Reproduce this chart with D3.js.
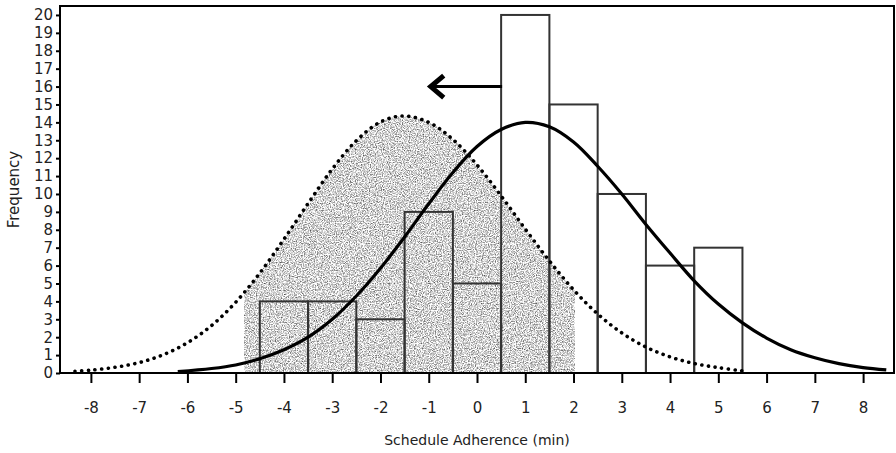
<!DOCTYPE html>
<html>
<head>
<meta charset="utf-8">
<script src="https://cdn.jsdelivr.net/npm/d3@7"></script>
<style>
  body { margin: 0; background: #fff; }
  svg { display: block; font-family: "DejaVu Sans", sans-serif; }
</style>
</head>
<body>
<svg id="hist-svg"></svg>
<script>
// histogram: centre of each 1 min bin and its count
const binCentres = [-4, -3, -2, -1, 0, 1, 2, 3, 4, 5];
const binCounts = [4, 4, 3, 9, 5, 20, 15, 10, 6, 7];
const binWidth = 1;

// fitted curve (solid)
const fitX = [-6.2, -5.5, -5, -4.5, -4, -3.5, -3, -2.5, -2, -1.5, -1, -0.5, 0, 0.5, 1, 1.5, 2, 2.5, 3, 3.5, 4, 4.5, 5, 5.5, 6, 6.5, 7, 7.5, 8, 8.48];
const fitY = [0.08, 0.25, 0.45, 0.8, 1.3, 2.0, 3.0, 4.3, 5.85, 7.6, 9.45, 11.2, 12.65, 13.6, 14.0, 13.75, 12.9, 11.55, 10.0, 8.3, 6.7, 5.15, 3.85, 2.8, 1.95, 1.3, 0.85, 0.52, 0.3, 0.17];

// shifted curve (dotted)
const shiftX = [-8.33, -8, -7.5, -7, -6.5, -6, -5.5, -5, -4.5, -4, -3.5, -3, -2.5, -2, -1.53, -1, -0.5, 0, 0.5, 1, 1.5, 2, 2.5, 3, 3.5, 4, 4.5, 5, 5.49];
const shiftY = [0.1, 0.16, 0.32, 0.58, 1.02, 1.69, 2.65, 3.95, 5.58, 7.47, 9.47, 11.39, 12.98, 14.02, 14.36, 14.0, 13.05, 11.62, 9.89, 8.04, 6.26, 4.65, 3.3, 2.24, 1.45, 0.9, 0.53, 0.3, 0.12];

// shaded part under the dotted curve
const shadeRange = [-4.83, 2.03];

// arrow showing the shift
const arrowFrom = [0.52, 16];
const arrowTo = [-1.0, 16];

const xTicks = [-8, -7, -6, -5, -4, -3, -2, -1, 0, 1, 2, 3, 4, 5, 6, 7, 8];
const yTicks = [0, 1, 2, 3, 4, 5, 6, 7, 8, 9, 10, 11, 12, 13, 14, 15, 16, 17, 18, 19, 20];

let svg = d3.select("#hist-svg");
const width = 896;
const height = 453;
const margin = {top: 6, right: 2, bottom: 80, left: 60};

svg.attr("width", width).attr("height", height);

const x = d3.scaleLinear()
    .domain([-8.64, 8.64])
    .range([margin.left, width - margin.right]);

const y = d3.scaleLinear()
    .domain([0, 20.5])
    .range([height - margin.bottom, margin.top]);

// grey stipple texture
const defs = svg.append("defs");
const filt = defs.append("filter")
    .attr("id", "stipple")
    .attr("color-interpolation-filters", "sRGB");
filt.append("feTurbulence")
    .attr("type", "fractalNoise")
    .attr("baseFrequency", 0.85)
    .attr("numOctaves", 2)
    .attr("seed", 5)
    .attr("result", "n");
filt.append("feColorMatrix")
    .attr("in", "n")
    .attr("type", "matrix")
    .attr("values", "1.4 0 0 0 0.13  1.4 0 0 0 0.13  1.4 0 0 0 0.13  0 0 0 0 1")
    .attr("result", "g");
filt.append("feComposite")
    .attr("in", "g")
    .attr("in2", "SourceGraphic")
    .attr("operator", "in");

defs.append("clipPath")
    .attr("id", "shade-clip")
    .append("rect")
    .attr("x", x(shadeRange[0]))
    .attr("y", y.range()[1])
    .attr("width", x(shadeRange[1]) - x(shadeRange[0]))
    .attr("height", y.range()[0] - y.range()[1]);

const shiftPts = shiftX.map((d, i) => [d, shiftY[i]]);
const fitPts = fitX.map((d, i) => [d, fitY[i]]);

// shaded area
svg.append("g")
    .attr("clip-path", "url(#shade-clip)")
    .append("path")
    .datum(shiftPts)
    .attr("d", d3.area()
        .x(d => x(d[0]))
        .y0(y(0))
        .y1(d => y(d[1]))
        .curve(d3.curveCatmullRom))
    .attr("fill", "#ccc")
    .attr("filter", "url(#stipple)");

// bars
svg.append("g")
    .selectAll("rect")
    .data(binCentres)
    .enter()
    .append("rect")
    .attr("x", d => x(d - binWidth/2))
    .attr("width", d => x(d + binWidth/2) - x(d - binWidth/2))
    .attr("y", (d, i) => y(binCounts[i]))
    .attr("height", (d, i) => y(0) - y(binCounts[i]))
    .attr("fill", "none")
    .attr("stroke", "#333")
    .attr("stroke-width", 2);

const line = d3.line()
    .x(d => x(d[0]))
    .y(d => y(d[1]))
    .curve(d3.curveCatmullRom);

// dotted curve
svg.append("path")
    .datum(shiftPts)
    .attr("d", line)
    .attr("fill", "none")
    .attr("stroke", "#000")
    .attr("stroke-width", 3.6)
    .attr("stroke-linecap", "round")
    .style("stroke-dasharray", "0.1, 6.6");

// solid curve
svg.append("path")
    .datum(fitPts)
    .attr("d", line)
    .attr("fill", "none")
    .attr("stroke", "#000")
    .attr("stroke-width", 3.2);

// arrow
svg.append("line")
    .attr("x1", x(arrowFrom[0]))
    .attr("y1", y(arrowFrom[1]))
    .attr("x2", x(arrowTo[0]) + 3)
    .attr("y2", y(arrowTo[1]))
    .attr("stroke", "#000")
    .attr("stroke-width", 3);
svg.append("path")
    .attr("d", "M" + (x(arrowTo[0]) + 15) + "," + (y(arrowTo[1]) - 11) +
        "L" + (x(arrowTo[0]) + 2) + "," + y(arrowTo[1]) +
        "L" + (x(arrowTo[0]) + 15) + "," + (y(arrowTo[1]) + 11))
    .attr("fill", "none")
    .attr("stroke", "#000")
    .attr("stroke-width", 5);

// axes
const xAxis = svg.append("g")
    .attr("transform", "translate(0," + y(0) + ")")
    .call(d3.axisBottom(x).tickValues(xTicks).tickFormat(d => String(d))
        .tickSize(10).tickSizeOuter(0).tickPadding(19));
const yAxis = svg.append("g")
    .attr("transform", "translate(" + x.range()[0] + ",0)")
    .call(d3.axisLeft(y).tickValues(yTicks).tickFormat(d => String(d))
        .tickSize(4).tickSizeOuter(0).tickPadding(3));

[xAxis, yAxis].forEach(a => {
    a.select(".domain").remove();
    a.selectAll("line").attr("stroke", "#000").attr("stroke-width", 2);
    a.selectAll("text")
        .attr("fill", "#222")
        .style("font-family", "'DejaVu Sans', sans-serif")
        .style("font-size", "15px");
});

// frame
svg.append("rect")
    .attr("x", x.range()[0])
    .attr("y", y.range()[1])
    .attr("width", x.range()[1] - x.range()[0])
    .attr("height", y.range()[0] - y.range()[1])
    .attr("fill", "none")
    .attr("stroke", "#000")
    .attr("stroke-width", 2);

// axis titles
svg.append("text")
    .attr("x", (x.range()[0] + x.range()[1]) / 2)
    .attr("y", 445)
    .attr("text-anchor", "middle")
    .attr("fill", "#222")
    .style("font-size", "14px")
    .text("Schedule Adherence (min)");

svg.append("text")
    .attr("transform", "translate(19," + (y.range()[0] + y.range()[1]) / 2 + ") rotate(-90)")
    .attr("text-anchor", "middle")
    .attr("fill", "#222")
    .style("font-size", "15px")
    .text("Frequency");
</script>
</body>
</html>
